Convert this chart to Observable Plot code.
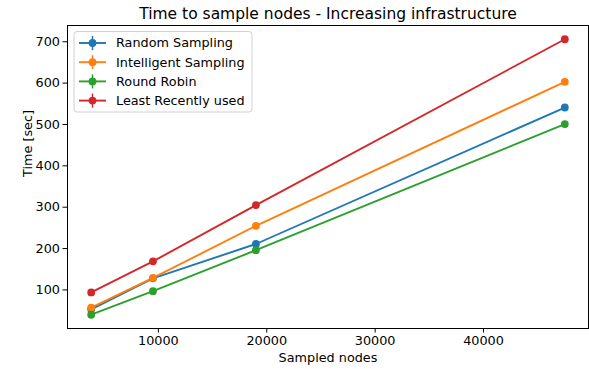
<!DOCTYPE html>
<html>
<head>
<meta charset="utf-8">
<script src="https://cdn.jsdelivr.net/npm/d3@7"></script>
<script src="https://cdn.jsdelivr.net/npm/@observablehq/plot@0.6"></script>
<style>
  html, body { margin: 0; padding: 0; background: #fff; }
  svg { display: block; }
</style>
</head>
<body>
<div id="chart"></div>
<script>
const sampledNodes = [3800, 9500, 19000, 47500];
const seriesNames = ["Random Sampling", "Intelligent Sampling", "Round Robin", "Least Recently used"];
const seriesColors = ["#1f77b4", "#ff7f0e", "#2ca02c", "#d62728"];
const randomSampling = [53, 128, 211, 541];
const intelligentSampling = [57, 129, 255, 603];
const roundRobin = [40, 97, 196, 501];
const leastRecentlyUsed = [94, 169, 305, 706];
const xTicks = [10000, 20000, 30000, 40000];
const yTicks = [100, 200, 300, 400, 500, 600, 700];

const seriesValues = [randomSampling, intelligentSampling, roundRobin, leastRecentlyUsed];
const rows = [];
seriesNames.forEach((name, i) => {
  sampledNodes.forEach((x, j) => rows.push({series: name, x, y: seriesValues[i][j]}));
});

const xMin = d3.min(sampledNodes), xMax = d3.max(sampledNodes);
const xPad = (xMax - xMin) * 0.05;
const allY = seriesValues.flat();
const yMin = d3.min(allY), yMax = d3.max(allY);
const yPad = (yMax - yMin) * 0.05;

const font = "DejaVu Sans, sans-serif";

const chart = Plot.plot({
  width: 589,
  height: 369,
  marginLeft: 67,
  marginRight: 1,
  marginTop: 25,
  marginBottom: 41,
  style: {fontFamily: font, fontSize: "12.8px", color: "#000", background: "#fff"},
  x: {domain: [xMin - xPad, xMax + xPad]},
  y: {domain: [yMin - yPad, yMax + yPad]},
  color: {domain: seriesNames, range: seriesColors},
  marks: [
    Plot.axisX({ticks: xTicks, tickSize: 4.5, tickPadding: 3, tickFormat: d3.format("d"), label: null, fontSize: 12.8}),
    Plot.axisY({ticks: yTicks, tickSize: 4.5, tickPadding: 3, label: null, fontSize: 12.8}),
    Plot.line(rows, {x: "x", y: "y", z: "series", stroke: "series", strokeWidth: 1.9}),
    Plot.dot(rows, {x: "x", y: "y", fill: "series", r: 3.9, stroke: null}),
    Plot.frame({stroke: "#000", strokeWidth: 1}),
    Plot.text(["Time to sample nodes - Increasing infrastructure"], {text: d => d, frameAnchor: "top", dy: -11, fontSize: 15.5, fill: "#000", lineAnchor: "middle"}),
    Plot.text(["Sampled nodes"], {text: d => d, frameAnchor: "bottom", dy: 29, fontSize: 12.8, fill: "#000", lineAnchor: "middle"}),
    Plot.text(["Time [sec]"], {text: d => d, frameAnchor: "left", dx: -40, rotate: -90, fontSize: 12.8, fill: "#000", lineAnchor: "middle"})
  ]
});

// Legend (matplotlib style, upper left inside the axes)
const svg = d3.select(chart);
const lg = svg.append("g").attr("font-family", font).attr("font-size", "12.8px").attr("text-anchor", "start");
lg.append("rect").attr("x", 74).attr("y", 31.5).attr("width", 178).attr("height", 80.5)
  .attr("rx", 3).attr("fill", "#fff").attr("fill-opacity", 0.8).attr("stroke", "#d0d0d0");
seriesNames.forEach((name, i) => {
  const cy = 43 + i * 19.2;
  const g = lg.append("g");
  g.append("line").attr("x1", 79).attr("x2", 106).attr("y1", cy).attr("y2", cy)
    .attr("stroke", seriesColors[i]).attr("stroke-width", 1.9);
  g.append("line").attr("x1", 92.5).attr("x2", 92.5).attr("y1", cy - 7).attr("y2", cy + 7)
    .attr("stroke", seriesColors[i]).attr("stroke-width", 1.5);
  g.append("circle").attr("cx", 92.5).attr("cy", cy).attr("r", 3.9).attr("fill", seriesColors[i]);
  g.append("text").attr("x", 116).attr("y", cy).attr("dy", "0.35em").attr("text-anchor", "start")
    .attr("fill", "#000").text(name);
});

document.getElementById("chart").appendChild(chart);
</script>
</body>
</html>
